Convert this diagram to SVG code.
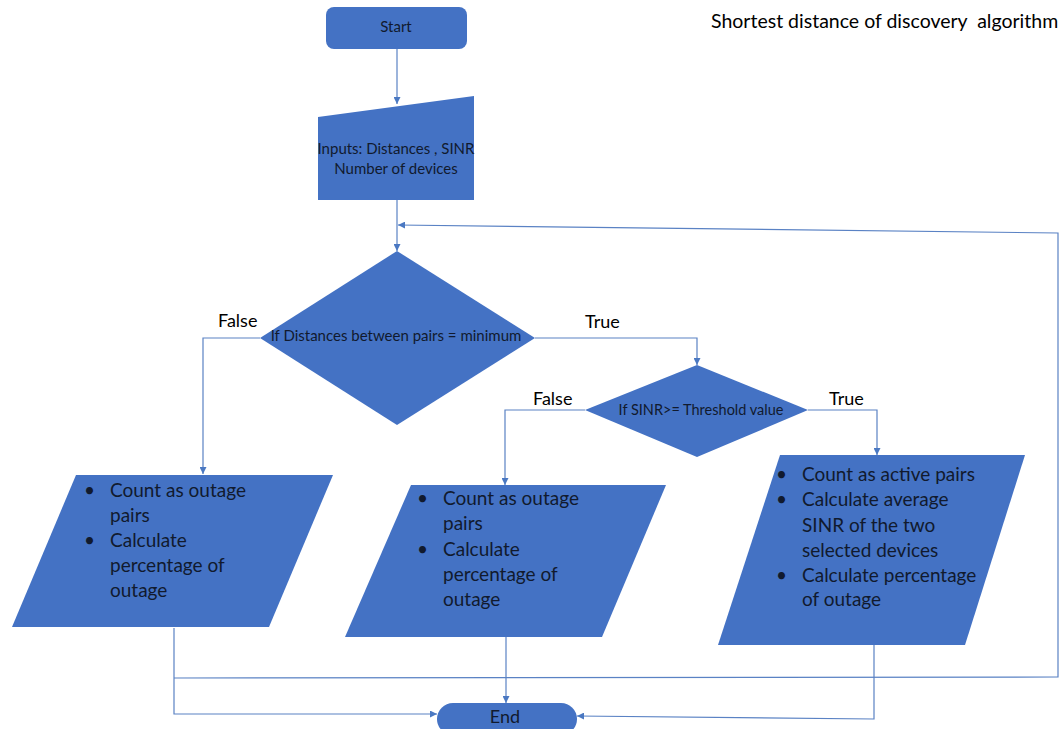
<svg xmlns="http://www.w3.org/2000/svg" width="1059" height="729" viewBox="0 0 1059 729">
<defs>
<marker id="ah" viewBox="0 0 10 10" refX="10" refY="5" markerWidth="7" markerHeight="7" markerUnits="userSpaceOnUse" orient="auto">
<path d="M0,0 L10,5 L0,10 z" fill="#4a78c2"/>
</marker>
<style>
.shape{fill:#4472c4;}
.conn{fill:none;stroke:#5a82c4;stroke-width:1.2;}
.t{font-family:Lato,"Open Sans","Liberation Sans",sans-serif;fill:#111a2e;}
.lbl{font-family:Lato,"Open Sans","Liberation Sans",sans-serif;fill:#000;font-size:18px;}
.body{font-size:19px;}
</style>
</defs>
<rect width="1059" height="729" fill="#ffffff"/>
<text class="lbl" x="711" y="28" style="font-size:19.5px;white-space:pre" xml:space="preserve">Shortest distance of discovery  algorithm</text>
<g id="connectors">
<path class="conn" d="M397,49 L397,104" marker-end="url(#ah)"/>
<path class="conn" d="M397,200 L397,251" marker-end="url(#ah)"/>
<path class="conn" d="M174,678 L1058,677 L1058,233 L398,225" marker-end="url(#ah)"/>
<path class="conn" d="M174,628 L174,714 L437,714" marker-end="url(#ah)"/>
<path class="conn" d="M506,637 L506,703" marker-end="url(#ah)"/>
<path class="conn" d="M874,645 L874,719 L577,716" marker-end="url(#ah)"/>
<path class="conn" d="M260,338 L203,338 L203,474" marker-end="url(#ah)"/>
<path class="conn" d="M535,338 L697,338 L697,365" marker-end="url(#ah)"/>
<path class="conn" d="M585,410 L505,410 L505,485" marker-end="url(#ah)"/>
<path class="conn" d="M808,410 L877,410 L877,455" marker-end="url(#ah)"/>
<text class="lbl" x="218" y="327">False</text>
<text class="lbl" x="585" y="328">True</text>
<text class="lbl" x="533" y="405">False</text>
<text class="lbl" x="829" y="405">True</text>
</g>
<g id="start">
<rect class="shape" x="326" y="7" width="141" height="42" rx="8"/>
<text class="t" x="396" y="32" font-size="15" text-anchor="middle">Start</text>
</g>
<g id="inputs">
<polygon class="shape" points="318,117 474,96 474,200 318,200"/>
<text class="t" x="396" y="154" font-size="15" text-anchor="middle">Inputs: Distances , SINR</text>
<text class="t" x="396" y="174" font-size="15" text-anchor="middle">Number of devices</text>
</g>
<g id="decision1">
<polygon class="shape" points="397,251 535,338 397,425 260,338"/>
<text class="t" x="396" y="341" font-size="15" text-anchor="middle">If Distances between pairs = minimum</text>
</g>
<g id="decision2">
<polygon class="shape" points="697,365 808,410 697,457 585,410"/>
<text class="t" x="701" y="415" font-size="14.5" text-anchor="middle">If SINR&gt;= Threshold value</text>
</g>
<g id="outage1">
<polygon class="shape" points="76,475 333,475 269,627 12,627"/>
<g class="t body">
<text x="84" y="497">•</text>
<text x="110" y="497">Count as outage</text>
<text x="110" y="522">pairs</text>
<text x="84" y="547">•</text>
<text x="110" y="547">Calculate</text>
<text x="110" y="572">percentage of</text>
<text x="110" y="597">outage</text>
</g>
</g>
<g id="outage2">
<polygon class="shape" points="411,485 666,485 602,637 345,637"/>
<g class="t body">
<text x="417" y="505">•</text>
<text x="443" y="505">Count as outage</text>
<text x="443" y="530">pairs</text>
<text x="417" y="556">•</text>
<text x="443" y="556">Calculate</text>
<text x="443" y="581">percentage of</text>
<text x="443" y="606">outage</text>
</g>
</g>
<g id="active">
<polygon class="shape" points="780,455 1025,455 965,645 718,645"/>
<g class="t body">
<text x="776" y="481">•</text>
<text x="802" y="481">Count as active pairs</text>
<text x="776" y="506">•</text>
<text x="802" y="506">Calculate average</text>
<text x="802" y="532">SINR of the two</text>
<text x="802" y="557">selected devices</text>
<text x="776" y="582">•</text>
<text x="802" y="582">Calculate percentage</text>
<text x="802" y="606">of outage</text>
</g>
</g>
<g id="end">
<rect class="shape" x="437" y="703" width="140" height="32" rx="16"/>
<text class="t" x="505" y="723" font-size="18" text-anchor="middle">End</text>
</g>
</svg>
